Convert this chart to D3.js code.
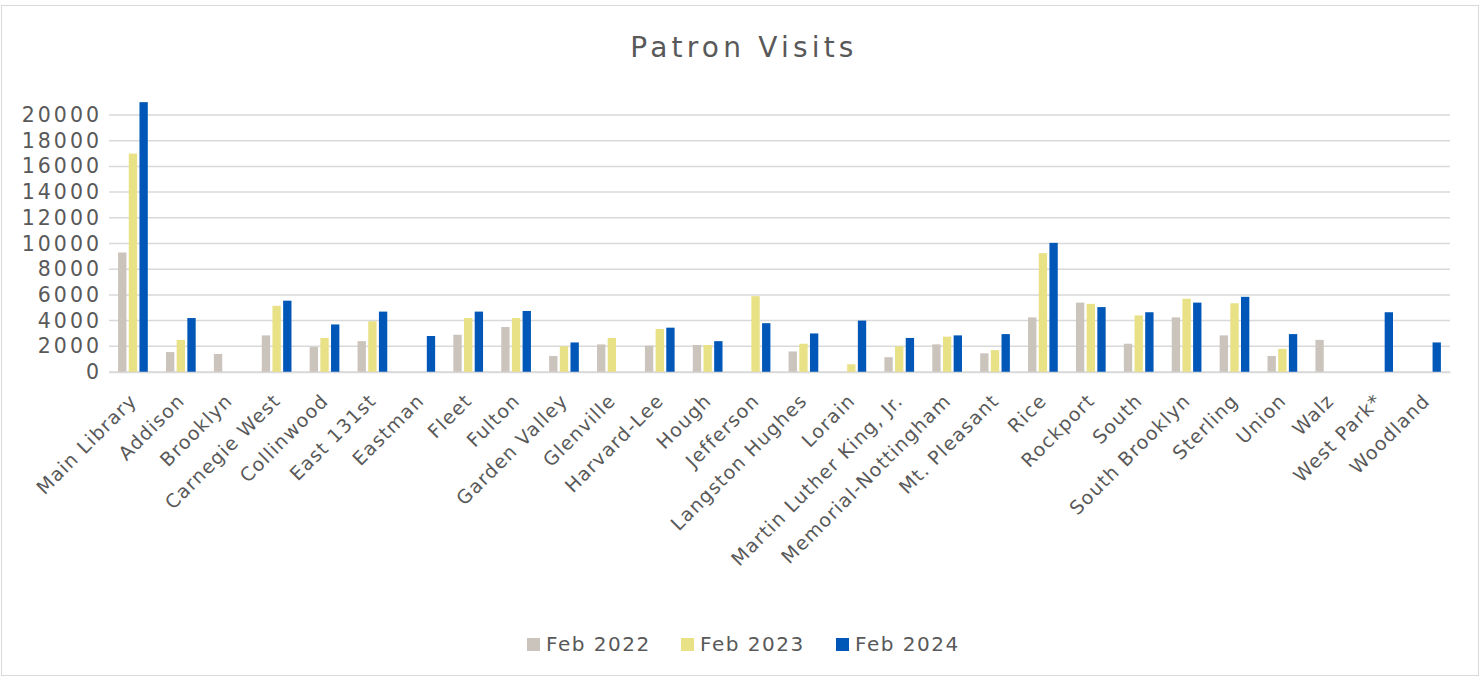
<!DOCTYPE html>
<html>
<head>
<meta charset="utf-8">
<script src="https://cdn.jsdelivr.net/npm/d3@7"></script>
<style>
  body { margin: 0; background: #fff; }
  text { font-family: "DejaVu Sans", "Liberation Sans", sans-serif; fill: #595959; }
</style>
</head>
<body>
<div class="chart"></div>
<script>
// data
var branches = ["Main Library", "Addison", "Brooklyn", "Carnegie West", "Collinwood", "East 131st",
    "Eastman", "Fleet", "Fulton", "Garden Valley", "Glenville", "Harvard-Lee", "Hough", "Jefferson",
    "Langston Hughes", "Lorain", "Martin Luther King, Jr.", "Memorial-Nottingham", "Mt. Pleasant",
    "Rice", "Rockport", "South", "South Brooklyn", "Sterling", "Union", "Walz", "West Park*", "Woodland"];
var seriesNames = ["Feb 2022", "Feb 2023", "Feb 2024"];
var feb2022 = [9300, 1550, 1400, 2850, 1950, 2400, 0, 2900, 3500, 1250, 2150, 2050, 2100, 0,
    1600, 0, 1150, 2150, 1450, 4250, 5400, 2200, 4250, 2850, 1250, 2500, 0, 0];
var feb2023 = [17000, 2500, 0, 5150, 2650, 3950, 0, 4200, 4200, 2000, 2650, 3350, 2100, 5900,
    2200, 600, 2000, 2750, 1700, 9250, 5300, 4400, 5700, 5350, 1800, 0, 0, 0];
var feb2024 = [21000, 4200, 0, 5550, 3700, 4700, 2800, 4700, 4750, 2300, 0, 3450, 2400, 3800,
    3000, 4000, 2650, 2850, 2950, 10050, 5050, 4650, 5400, 5850, 2950, 0, 4650, 2300];
var yTicks = [0, 2000, 4000, 6000, 8000, 10000, 12000, 14000, 16000, 18000, 20000];
var colors = ["#CBC4BC", "#E8E186", "#0057B7"];

var svgWidth = 1480;
var svgHeight = 677;
var margin = { top: 115, left: 109 };
var width = 1341;
var height = 257;

var svg = d3.select(".chart")
    .append("svg")
    .attr("width", svgWidth)
    .attr("height", svgHeight);

// outer frame
svg.append("rect")
    .attr("x", 1.5).attr("y", 5.5)
    .attr("width", svgWidth - 3).attr("height", svgHeight - 7)
    .attr("fill", "none")
    .attr("stroke", "#D9D9D9");

svg.append("text")
    .attr("x", 744).attr("y", 57)
    .attr("text-anchor", "middle")
    .style("font-size", "28px")
    .style("letter-spacing", "4.2px")
    .text("Patron Visits");

var chartGroup = svg.append("g")
    .attr("transform", `translate(${margin.left}, ${margin.top})`);

var xScale = d3.scaleBand()
    .domain(branches)
    .range([0, width])
    .paddingInner(0.38)
    .paddingOuter(0.19);

var xInner = d3.scaleBand()
    .domain(seriesNames)
    .range([0, xScale.bandwidth()])
    .paddingInner(0.22);

var yScale = d3.scaleLinear()
    .domain([0, 20000])
    .range([height, 0]);

// gridlines
chartGroup.append("g")
    .selectAll("line")
    .data(yTicks)
    .enter()
    .append("line")
    .attr("x1", 0).attr("x2", width)
    .attr("y1", d => yScale(d)).attr("y2", d => yScale(d))
    .attr("stroke", "#D9D9D9")
    .attr("stroke-width", 1.5);

// y axis labels
var leftAxis = d3.axisLeft(yScale)
    .tickValues(yTicks)
    .tickFormat(d3.format("d"))
    .tickSize(0)
    .tickPadding(7);
var yAxis = chartGroup.append("g").call(leftAxis);
yAxis.select(".domain").remove();
yAxis.selectAll("text")
    .style("font-size", "20.5px")
    .style("letter-spacing", "3px")
    .attr("fill", "#595959");

// bars
var allSeries = [feb2022, feb2023, feb2024];
var barGroups = chartGroup.selectAll(".branch")
    .data(branches)
    .enter()
    .append("g")
    .attr("transform", d => `translate(${xScale(d)}, 0)`);

barGroups.selectAll("rect")
    .data((d, i) => seriesNames.map((s, j) => ({ s: s, v: allSeries[j][i], c: colors[j] })))
    .enter()
    .append("rect")
    .filter(d => d.v > 0)
    .attr("x", d => xInner(d.s))
    .attr("y", d => yScale(d.v))
    .attr("width", xInner.bandwidth())
    .attr("height", d => height - yScale(d.v))
    .attr("fill", d => d.c);

// x axis labels
var bottomAxis = d3.axisBottom(xScale).tickSize(0).tickPadding(0);
var xAxis = chartGroup.append("g")
    .attr("transform", `translate(0, ${height})`)
    .call(bottomAxis);
xAxis.select(".domain")
    .attr("stroke", "#D9D9D9")
    .attr("stroke-width", 1.5);
xAxis.selectAll("text")
    .style("font-size", "19px")
    .style("letter-spacing", "1.2px")
    .attr("fill", "#595959")
    .attr("text-anchor", "end")
    .attr("dy", 0)
    .attr("y", 0)
    .attr("transform", "translate(5, 30) rotate(-45)");

// legend
var legendX = [527, 681, 836];
var legend = svg.append("g");
seriesNames.forEach(function(name, i) {
    legend.append("rect")
        .attr("x", legendX[i]).attr("y", 638)
        .attr("width", 13).attr("height", 13)
        .attr("fill", colors[i]);
    legend.append("text")
        .attr("x", legendX[i] + 19).attr("y", 651)
        .style("font-size", "20px")
        .style("letter-spacing", "1.5px")
        .text(name);
});
</script>
</body>
</html>
